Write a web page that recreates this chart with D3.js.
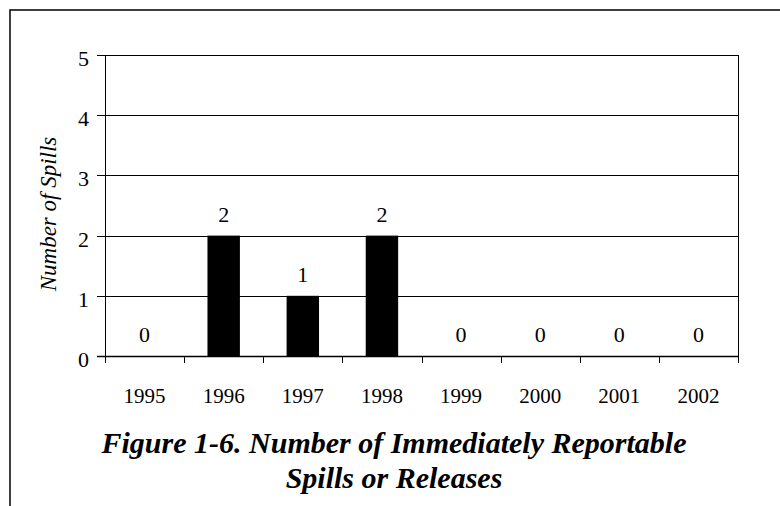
<!DOCTYPE html>
<html>
<head>
<meta charset="utf-8">
<script src="https://cdn.jsdelivr.net/npm/d3@7"></script>
<style>
  body { margin: 0; background: #fff; }
  text { font-family: "Liberation Serif", "Times New Roman", serif; fill: #000; }
</style>
</head>
<body>
<div id="chart"></div>
<script>
(function(){
	var years = ["1995", "1996", "1997", "1998", "1999", "2000", "2001", "2002"];
	var spills = [0, 2, 1, 2, 0, 0, 0, 0];
	var yTicks = [0, 1, 2, 3, 4, 5];
	var titleLines = ["Figure 1-6. Number of Immediately Reportable", "Spills or Releases"];

	var width = 780;
	var height = 506;
	var left = 105, right = 738, top = 55, bottom = 356;

	var svg = d3.select('#chart').append('svg')
		.attr('width', width)
		.attr('height', height);

	// outer frame (top and left edges)
	svg.append('path')
		.attr('d', 'M10,' + height + 'V10H' + width)
		.attr('fill', 'none')
		.attr('stroke', '#000')
		.attr('stroke-width', 1.5);

	var x = d3.scaleBand().domain(years).range([left, right]);
	var xBar = d3.scaleBand().domain(years).range([left, right])
		.paddingInner(0.59).paddingOuter(0.295);
	var y = d3.scaleLinear().domain([0, 5]).range([bottom, top]);

	// gridlines
	svg.append('g').selectAll('line')
		.data(yTicks)
		.enter()
		.append('line')
		.attr('x1', left - 8)
		.attr('x2', right)
		.attr('y1', function(d){ return Math.round(y(d)) + 0.5; })
		.attr('y2', function(d){ return Math.round(y(d)) + 0.5; })
		.attr('stroke', '#000')
		.attr('stroke-width', function(d){ return d === 0 ? 1.5 : 1; });

	// bars
	svg.append('g').selectAll('rect')
		.data(spills)
		.enter()
		.append('rect')
		.attr('x', function(d, i){ return xBar(years[i]); })
		.attr('width', xBar.bandwidth())
		.attr('y', function(d){ return y(d); })
		.attr('height', function(d){ return y(0) - y(d); })
		.attr('fill', '#000');

	// left axis line and right border
	svg.append('line')
		.attr('x1', left + 0.5).attr('x2', left + 0.5)
		.attr('y1', top).attr('y2', bottom + 7)
		.attr('stroke', '#000');
	svg.append('line')
		.attr('x1', right + 0.5).attr('x2', right + 0.5)
		.attr('y1', top).attr('y2', bottom + 7)
		.attr('stroke', '#000');

	// category boundary ticks
	svg.append('g').selectAll('line')
		.data(years.slice(1))
		.enter()
		.append('line')
		.attr('x1', function(d){ return Math.round(x(d)) + 0.5; })
		.attr('x2', function(d){ return Math.round(x(d)) + 0.5; })
		.attr('y1', bottom)
		.attr('y2', bottom + 7)
		.attr('stroke', '#000');

	// y tick labels
	svg.append('g').selectAll('text')
		.data(yTicks)
		.enter()
		.append('text')
		.attr('x', 89)
		.attr('y', function(d){ return y(d) + 11; })
		.attr('text-anchor', 'end')
		.style('font-size', '22px')
		.text(function(d){ return d; });

	// year labels
	svg.append('g').selectAll('text')
		.data(years)
		.enter()
		.append('text')
		.attr('x', function(d){ return x(d) + x.bandwidth()/2; })
		.attr('y', 403)
		.attr('text-anchor', 'middle')
		.style('font-size', '21px')
		.text(function(d){ return d; });

	// value labels
	svg.append('g').selectAll('text')
		.data(spills)
		.enter()
		.append('text')
		.attr('x', function(d, i){ return x(years[i]) + x.bandwidth()/2; })
		.attr('y', function(d){ return y(d) - 14; })
		.attr('text-anchor', 'middle')
		.style('font-size', '22px')
		.text(function(d){ return d; });

	// y axis title
	svg.append('text')
		.attr('transform', 'translate(56,214) rotate(-90)')
		.attr('text-anchor', 'middle')
		.style('font-size', '23px')
		.style('font-style', 'italic')
		.text('Number of Spills');

	// figure caption
	svg.append('g').selectAll('text')
		.data(titleLines)
		.enter()
		.append('text')
		.attr('x', 394)
		.attr('y', function(d, i){ return 453 + i*35; })
		.attr('text-anchor', 'middle')
		.style('font-size', '30px')
		.style('font-weight', 'bold')
		.style('font-style', 'italic')
		.text(function(d){ return d; });
})();
</script>
</body>
</html>
